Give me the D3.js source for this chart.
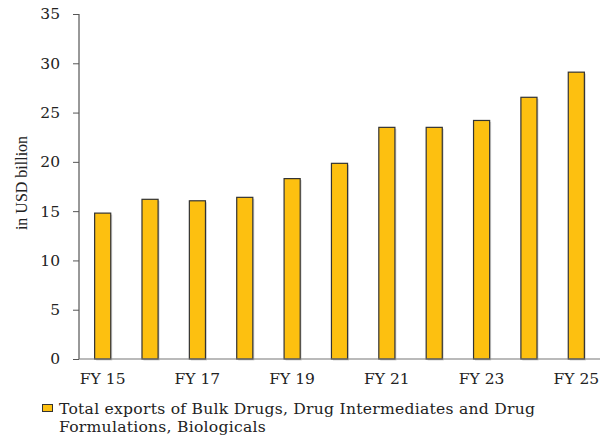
<!DOCTYPE html>
<html><head><meta charset="utf-8">
<script src="https://cdn.jsdelivr.net/npm/d3@7"></script>
<style>body{margin:0;background:#fff}</style>
</head><body>
<svg id="c" width="605" height="436"></svg>
<script>
const categories = ["FY 15","FY 16","FY 17","FY 18","FY 19","FY 20","FY 21","FY 22","FY 23","FY 24","FY 25"];
const values = [14.8, 16.2, 16.05, 16.4, 18.3, 19.85, 23.5, 23.5, 24.2, 26.55, 29.1];
const yTicks = [0,5,10,15,20,25,30,35];
const xTickLabels = ["FY 15","FY 17","FY 19","FY 21","FY 23","FY 25"];
const yTitle = "in USD billion";
const legendLines = ["Total exports of Bulk Drugs, Drug Intermediates and Drug","Formulations, Biologicals"];

(function(){
const svg = d3.select("#c");
const font = "Georgia, 'DejaVu Serif', serif";
const mLeft = 79, mRight = 600, mTop = 14, mBottom = 359;
const x = d3.scaleBand().domain(categories).range([mLeft, mRight]).paddingInner(0.66).paddingOuter(0.33);
const y = d3.scaleLinear().domain([0,35]).range([mBottom, mTop]);

svg.append("g").selectAll("rect").data(values).join("rect")
  .attr("x",(d,i)=>x(categories[i])+1.5).attr("y",d=>y(d)+1.5)
  .attr("width",x.bandwidth()).attr("height",d=>mBottom-y(d))
  .attr("fill","#bbb").attr("opacity",0.6);
svg.append("g").selectAll("rect").data(values).join("rect")
  .attr("x",(d,i)=>x(categories[i])).attr("y",d=>y(d))
  .attr("width",x.bandwidth()).attr("height",d=>mBottom-y(d))
  .attr("fill","#FDC010").attr("stroke","#333").attr("stroke-width",1.2);

const yAxis = svg.append("g").attr("transform",`translate(${mLeft},0)`)
  .call(d3.axisLeft(y).tickValues(yTicks).tickSize(6).tickPadding(13));
yAxis.select(".domain").attr("stroke","#333").attr("d",`M0,${mTop}V${mBottom}`);
yAxis.selectAll(".tick line").attr("stroke","#555");
yAxis.selectAll("text").attr("font-family",font).attr("font-size",15.5).attr("fill","#222");

svg.append("line").attr("x1",mLeft).attr("x2",mRight).attr("y1",mBottom).attr("y2",mBottom).attr("stroke","#777").attr("stroke-width",1.2);

const xAxis = svg.append("g").attr("transform",`translate(0,${mBottom})`)
  .call(d3.axisBottom(x).tickValues(xTickLabels).tickSize(0).tickPadding(14));
xAxis.select(".domain").remove();
xAxis.selectAll("text").attr("font-family",font).attr("font-size",15.5).attr("fill","#222");

svg.append("text").attr("transform",`translate(27,183) rotate(-90)`)
  .attr("text-anchor","middle").attr("font-family","'Liberation Serif', serif")
  .attr("font-size",16).attr("fill","#222").text(yTitle);

svg.append("rect").attr("x",42.5).attr("y",404.5).attr("width",10).attr("height",7)
  .attr("fill","#FDC010").attr("stroke","#333").attr("stroke-width",1);
svg.append("text").attr("font-family",font).attr("font-size",15.6).attr("letter-spacing",0.25).attr("fill","#222")
  .selectAll("tspan").data(legendLines).join("tspan")
  .attr("x",59).attr("y",(d,i)=>414+i*17.5).text(d=>d);
})();
</script>
</body></html>
